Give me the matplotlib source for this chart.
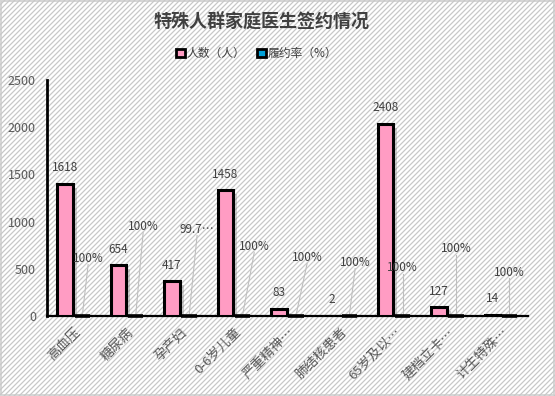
import numpy as np
import matplotlib.pyplot as plt
import matplotlib.patheffects as pe
from matplotlib.patches import Patch, Rectangle

plt.rcParams['font.family'] = ['Noto Sans CJK SC', 'DejaVu Sans']

# data
categories = ['高血压', '糖尿病', '孕产妇', '0-6岁儿童', '严重精神…',
              '肺结核患者', '65岁及以…', '建档立卡…', '计生特殊…']
count_bars = [1400, 540, 370, 1335, 75, 2, 2035, 95, 14]      # drawn heights
count_labels = ['1618', '654', '417', '1458', '83', '2', '2408', '127', '14']
rate_vals = [1.0, 1.0, 0.997, 1.0, 1.0, 1.0, 1.0, 1.0, 1.0]
rate_labels = ['100%', '100%', '99.7…', '100%', '100%', '100%', '100%', '100%', '100%']

# callout placement for the rate labels (layout only)
rate_label_y = [604, 943, 912, 731, 615, 562, 509, 710, 466]
rate_label_dx = [0.11, 0.14, 0.15, 0.22, 0.21, 0.11, 0.0, 0.0, 0.0]

PINK = '#ff9cc3'
BLUE = '#00a0d8'
GREY_TXT = '#404040'

W, H = 555, 396
fig = plt.figure(figsize=(W / 100, H / 100), dpi=100)

# hatched background, drawn as plain diagonal lines
bg = fig.add_axes([0, 0, 1, 1])
bg.set_xlim(0, W)
bg.set_ylim(0, H)
bg.set_axis_off()
for c in np.arange(-H, W, 5):
    bg.plot([c, c + H], [0, H], color='#c8c8c8', lw=0.9)
bg.add_patch(Rectangle((1, 1), W - 2, H - 2, fill=False, edgecolor='#d0d0d0', lw=1.2))

ax = fig.add_axes([0.0847, 0.202, 0.866, 0.596])
ax.patch.set_visible(False)

x = np.arange(len(categories))
w = 0.29
shadow = [pe.SimplePatchShadow(offset=(3, -3), shadow_rgbFace='#777777', alpha=0.35), pe.Normal()]
b1 = ax.bar(x - 0.16, count_bars, w, color=PINK, edgecolor='black', lw=2.2,
            path_effects=shadow, zorder=3)
b2 = ax.bar(x + 0.16, rate_vals, w, color=BLUE, edgecolor='black', lw=2.6,
            zorder=4, clip_on=False)

for xi, h, t in zip(x - 0.16, count_bars, count_labels):
    ax.annotate(t, (xi, h), xytext=(0, 11.5), textcoords='offset points',
                ha='center', va='center', fontsize=8.5, color=GREY_TXT)

for xi, h, t, ly, dx in zip(x + 0.16, rate_vals, rate_labels, rate_label_y, rate_label_dx):
    ax.plot([xi, xi + dx], [h, ly - 60], color='#bfbfbf', lw=0.8, zorder=2)
    ax.text(xi + dx, ly, t, ha='center', va='center', fontsize=8.5, color=GREY_TXT)

ax.set_xlim(-0.5, len(categories) - 0.5)
ax.set_ylim(0, 2500)
ax.set_yticks([0, 500, 1000, 1500, 2000, 2500])
ax.tick_params(axis='y', length=0, labelsize=9, labelcolor='#595959', pad=8)
ax.set_xticks(x)
ax.set_xticklabels(categories, rotation=45, ha='right', rotation_mode='anchor',
                   fontsize=9.5, color='#595959')
ax.tick_params(axis='x', length=0, pad=7)
for s in ['top', 'right']:
    ax.spines[s].set_visible(False)
ax.spines['left'].set_linewidth(2)
ax.spines['bottom'].set_linewidth(1.6)

fig.text(0.471, 0.944, '特殊人群家庭医生签约情况', ha='center', va='center',
         fontsize=13, fontweight='bold', color=GREY_TXT)
handles = [Patch(facecolor=PINK, edgecolor='black', lw=2, label='人数（人）'),
           Patch(facecolor=BLUE, edgecolor='black', lw=2, label='履约率（%）')]
fig.legend(handles=handles, loc='center', bbox_to_anchor=(0.463, 0.864), ncol=2,
           frameon=False, fontsize=8.5, handlelength=0.7, handleheight=0.7,
           handletextpad=0.2, columnspacing=1.0, labelcolor=GREY_TXT)

fig.savefig('out.png', dpi=100)
